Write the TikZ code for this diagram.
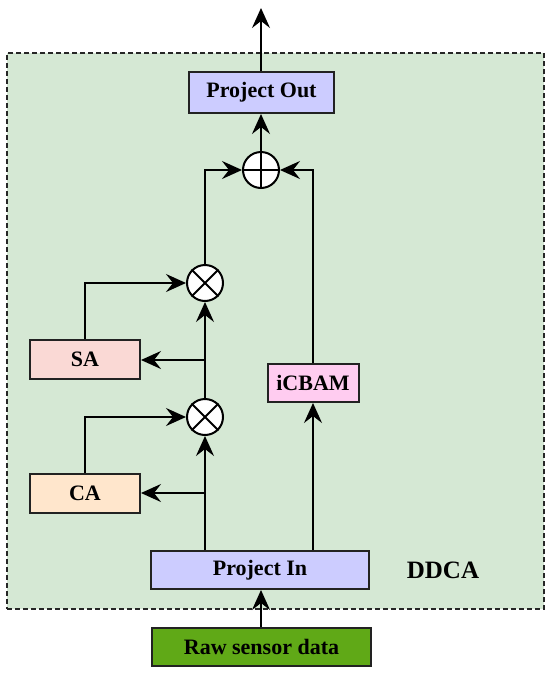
\documentclass[tikz,border=0pt]{standalone}
\usepackage{fontspec}
\setmainfont{Liberation Serif}
\usetikzlibrary{arrows.meta}
\definecolor{bggreen}{HTML}{D5E8D4}
\definecolor{projc}{HTML}{CCCCFF}
\definecolor{sac}{HTML}{FAD9D5}
\definecolor{cac}{HTML}{FFE6CC}
\definecolor{icc}{HTML}{FFCCF0}
\definecolor{rawc}{HTML}{60A917}
\definecolor{edge}{HTML}{222222}
\tikzset{
  blk/.style={draw=edge, line width=2pt, inner sep=0pt, font=\fontsize{22}{25}\selectfont\bfseries},
  opnode/.style={circle, draw=black, fill=white, line width=2pt, minimum size=36pt, inner sep=0pt},
  conn/.style={line width=2pt, -{Stealth[length=20pt,width=18pt,inset=7pt]}},
}
\begin{document}
\begin{tikzpicture}[x=1pt,y=-1pt]
\useasboundingbox (0,0) rectangle (550,673);
% container
\node[draw=black!85, dash pattern=on 5pt off 3pt, line width=1.6pt, fill=bggreen, minimum width=537pt, minimum height=556pt, inner sep=0pt] (ddca) at (275.5,331) {};
\node[font=\fontsize{25}{28}\selectfont\bfseries] (ddcalabel) at (443,570) {DDCA};
% blocks
\node[blk, fill=projc, minimum width=145pt, minimum height=41pt] (pout) at (261.5,92.5) {Project Out};
\node[blk, fill=projc, minimum width=218pt, minimum height=38pt] (pin) at (260,570) {Project In};
\node[blk, fill=rawc, minimum width=219pt, minimum height=38pt] (raw) at (261.5,647) {Raw sensor data};
\node[blk, fill=sac, minimum width=110pt, minimum height=39pt] (sa) at (85,359.5) {SA};
\node[blk, fill=cac, minimum width=110pt, minimum height=39pt] (ca) at (85,493.5) {CA};
\node[blk, fill=icc, minimum width=91pt, minimum height=38pt] (icbam) at (313,383) {iCBAM};
% operators
\node[opnode] (add) at (261,170) {};
\draw[line width=2pt] (add.north) -- (add.south) (add.west) -- (add.east);
\node[opnode] (mul1) at (205,283) {};
\draw[line width=2pt] (mul1.north west) -- (mul1.south east) (mul1.north east) -- (mul1.south west);
\node[opnode] (mul2) at (205,417) {};
\draw[line width=2pt] (mul2.north west) -- (mul2.south east) (mul2.north east) -- (mul2.south west);
\coordinate (outtop) at (261,8);
\coordinate (tap1) at (205,360);
\coordinate (tap2) at (205,493);
% connectors
\draw[conn] (raw.north -| add) -- (pin.south -| add);
\draw[conn] (pin.north -| mul2) -- (mul2.south);
\draw[conn] (tap2) -- (ca.east |- tap2);
\draw[conn] (ca.north) |- (mul2.west);
\draw[conn] (mul2.north) -- (mul1.south);
\draw[conn] (tap1) -- (sa.east |- tap1);
\draw[conn] (sa.north) |- (mul1.west);
\draw[conn] (mul1.north) |- (add.west);
\draw[conn] (pin.north -| icbam) -- (icbam.south);
\draw[conn] (icbam.north) |- (add.east);
\draw[conn] (add.north) -- (pout.south -| add);
\draw[conn] (pout.north -| add) -- (outtop);
\end{tikzpicture}
\end{document}
